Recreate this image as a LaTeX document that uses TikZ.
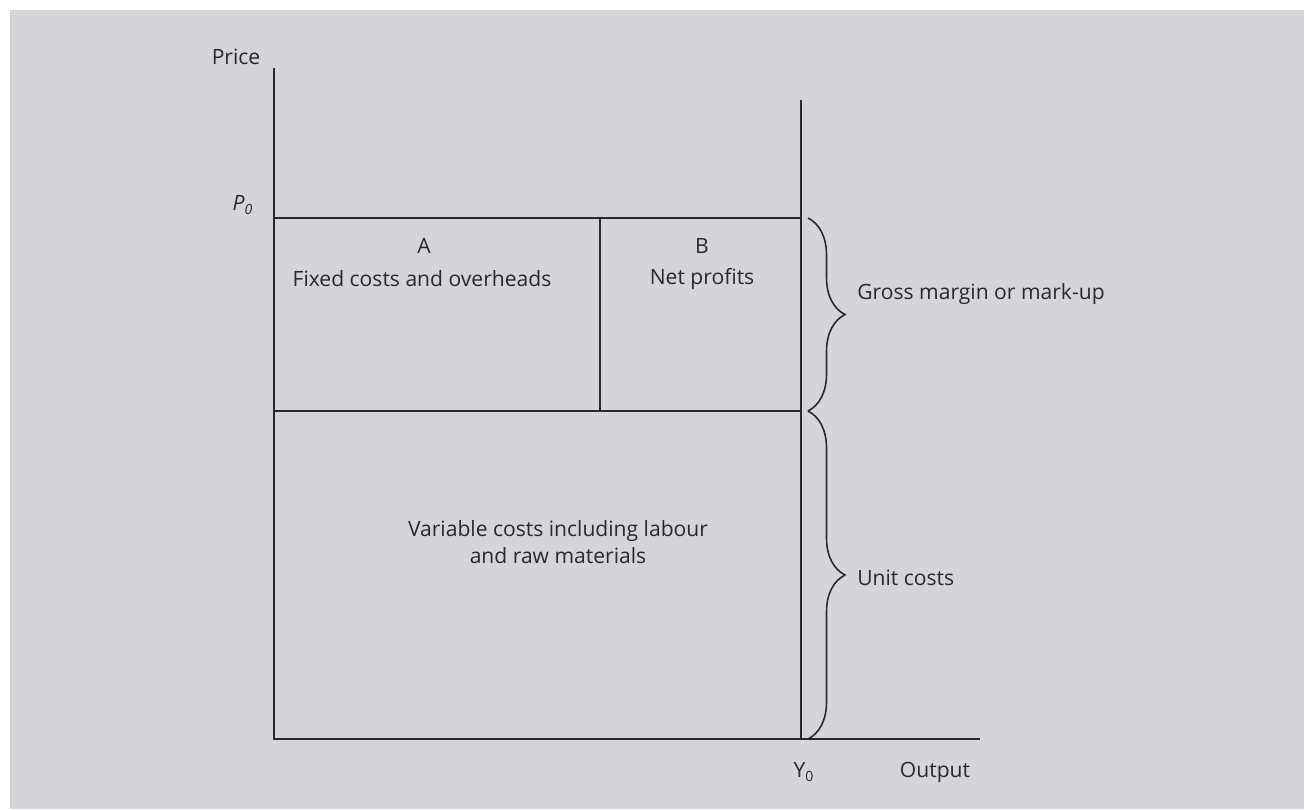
\documentclass[tikz,border=0pt]{standalone}
\usepackage{fontspec}
\setmainfont{Open Sans}
\usepackage{xcolor}
\usetikzlibrary{decorations.pathreplacing}
\definecolor{panelbg}{RGB}{212,212,217}
\definecolor{inkgray}{RGB}{40,40,45}
\tikzset{
  axisline/.style={draw=inkgray, line width=1.1pt},
  boxline/.style={draw=inkgray, line width=0.9pt},
  bracebar/.style={draw=inkgray, line width=0.9pt,
    decorate, decoration={brace, amplitude=0.74cm}},
  lbl/.style={font=\fontsize{12}{15}\selectfont, text=inkgray, inner sep=0pt},
}

\begin{document}
\begin{tikzpicture}[x=0.02cm, y=-0.02cm]

  %% ── Page and panel ──
  \useasboundingbox (0,0) rectangle (1304,809);
  \fill[white] (0,0) rectangle (1304,809);
  \fill[panelbg] (10,10) rectangle (1304,809);

  %% ── Corner points ──
  \coordinate (O)    at (274,739);
  \coordinate (ytop) at (274,68);
  \coordinate (xend) at (980,739);
  \coordinate (Ytop) at (801,100);
  \coordinate (Ybot) at (801,739);
  \coordinate (Pl)   at (274,218);
  \coordinate (Pr)   at (801,218);
  \coordinate (Ml)   at (274,411);
  \coordinate (Mr)   at (801,411);
  \coordinate (Dt)   at (600,218);
  \coordinate (Db)   at (600,411);

  %% ── Axes ──
  \draw[axisline] (ytop) -- (O) -- (xend);
  \draw[axisline] (Ytop) -- (Ybot);

  %% ── Cost blocks ──
  \draw[axisline] (Pl) -- (Pr);
  \draw[boxline] (Ml) -- (Mr);
  \draw[boxline] (Dt) -- (Db);

  %% ── Braces ──
  \coordinate (gt) at (808,218);
  \coordinate (gb) at (808,411);
  \coordinate (ub) at (808,739);
  \draw[bracebar] (gt) -- (gb);
  \draw[bracebar] (gb) -- (ub);

  %% ── Labels ──
  \node[lbl] (price)  at (236,57)  {Price};
  \node[lbl] (pnull)  at (243,205) {\textit{P}\textsubscript{\textit{0}}};
  \node[lbl] (ynull)  at (804,772) {Y\textsubscript{0}};
  \node[lbl] (output) at (935,772) {Output};

  \node[lbl] (la)    at (424,246) {A};
  \node[lbl] (fixed) at (422,279) {Fixed costs and overheads};
  \node[lbl] (lb)    at (702,246) {B};
  \node[lbl] (net)   at (702,279) {Net profits};

  \node[lbl, align=center] (var) at (558,542)
    {Variable costs including labour\\and raw materials};

  \node[lbl, anchor=west] (gross) at (857,294) {Gross margin or mark-up};
  \node[lbl, anchor=west] (unit)  at (857,578) {Unit costs};

\end{tikzpicture}
\end{document}
